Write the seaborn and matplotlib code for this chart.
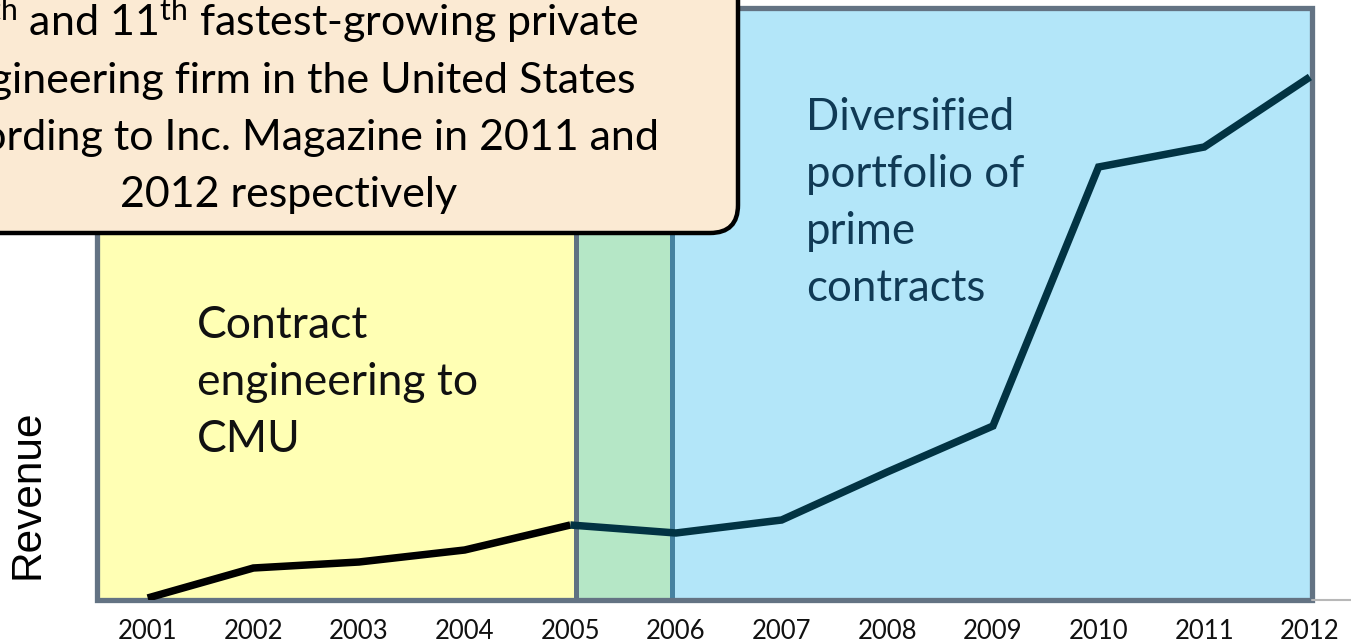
import matplotlib
matplotlib.use("Agg")
import matplotlib.pyplot as plt
from matplotlib.patches import Rectangle, FancyBboxPatch
import seaborn as sns
import pandas as pd

# ---------------- data ----------------
years = [2001, 2002, 2003, 2004, 2005, 2006, 2007, 2008, 2009, 2010, 2011, 2012]
revenue = [2, 32, 38, 50, 75, 67, 80, 128, 174, 433, 453, 523]
tick_labels = [str(y) for y in years]
# phase boundaries (years) : contract-engineering / transition / prime contracts
phase_edges = [2000.52, 2005.05, 2005.96, 2012.02]
phase_names = ["early", "late"]

callout_lines = [r"12$^{\rm th}$ and 11$^{\rm th}$ fastest-growing private",
                 "engineering firm in the United States",
                 "according to Inc. Magazine in 2011 and",
                 "2012 respectively"]
contract_lines = ["Contract", "engineering to", "CMU"]
diversified_lines = ["Diversified", "portfolio of", "prime", "contracts"]

# ---------------- styling ----------------
sns.set_theme(style="white")
plt.rcParams["font.family"] = ["Lato", "DejaVu Sans"]
plt.rcParams["mathtext.fontset"] = "custom"
plt.rcParams["mathtext.rm"] = "Lato"
plt.rcParams["mathtext.it"] = "Lato:italic"
plt.rcParams["mathtext.bf"] = "Lato:bold"

W, H = 1351, 644
fig = plt.figure(figsize=(W / 100, H / 100), dpi=100)
fig.patch.set_facecolor("white")

# main axes covering the coloured panel
ax = fig.add_axes([97 / W, (H - 600) / H, (1312 - 97) / W, 592 / H])
ax.set_xlim(phase_edges[0], phase_edges[-1])
ax.set_ylim(0, 592)
for s in ax.spines.values():
    s.set_visible(False)
ax.set_facecolor("none")

fills = ["#ffffb4", "#b5e7c6", "#b3e6f9"]
for (x0, x1), c in zip(zip(phase_edges[:-1], phase_edges[1:]), fills):
    ax.axvspan(x0, x1, 0, 1, facecolor=c, edgecolor="none", zorder=0.5)
# dividers
ax.axvline(phase_edges[1], color="#5f7282", lw=3.6, zorder=1.5)
ax.axvline(phase_edges[2], color="#4682a0", lw=3.6, zorder=1.5)
# outer border
ax.add_patch(Rectangle((0, 0), 1, 1, transform=ax.transAxes, fill=False,
                       edgecolor="#637383", lw=3.8, zorder=1.6, clip_on=False))

# revenue line
df_rows = []
for y, r in zip(years, revenue):
    if y <= 2005:
        df_rows.append({"year": y, "revenue": r, "phase": phase_names[0]})
    if y >= 2005:
        df_rows.append({"year": y, "revenue": r, "phase": phase_names[1]})
df = pd.DataFrame(df_rows)
sns.lineplot(data=df, x="year", y="revenue", hue="phase",
             palette={phase_names[0]: "#000000", phase_names[1]: "#023343"},
             linewidth=5.4, legend=False, ax=ax, zorder=3)
for ln in ax.lines[-2:]:
    ln.set_solid_capstyle("butt")
    ln.set_solid_joinstyle("miter")

ax.set_xticks(years)
ax.set_xticklabels(tick_labels, fontsize=18.5, color="#111111")
ax.set_yticks([])
ax.tick_params(axis="x", length=0, pad=14)
ax.set_xlabel("")
ax.set_ylabel("")

# overlay axes in pixel coordinates for annotations
ov = fig.add_axes([0, 0, 1, 1])
ov.set_xlim(0, W)
ov.set_ylim(H, 0)
ov.axis("off")
ov.set_facecolor("none")

# thin grey baseline continuing to the right
ov.plot([1312, W], [600, 600], color="#b8b8b8", lw=1.5, zorder=1)

# callout box
ov.add_patch(FancyBboxPatch((-200, -60), 938, 293,
                            boxstyle="round,pad=0,rounding_size=28",
                            facecolor="#fbead3", edgecolor="#000000", lw=3.2,
                            zorder=5))
for txt, yb in zip(callout_lines, [36, 93, 150, 207]):
    ov.text(289, yb, txt, ha="center", va="baseline", fontsize=31,
            color="#000000", zorder=6)

for txt, yb in zip(contract_lines, [338, 395, 452]):
    ov.text(197, yb, txt, ha="left", va="baseline", fontsize=32,
            color="#111111", zorder=6)

for txt, yb in zip(diversified_lines, [130, 187, 244, 301]):
    ov.text(806, yb, txt, ha="left", va="baseline", fontsize=31.5,
            color="#103a55", zorder=6)

ov.text(27, 494, "Revenue", rotation=90, ha="center", va="center",
        fontsize=30.5, color="#000000", family=["Liberation Sans", "DejaVu Sans"])

fig.savefig("out.png", dpi=100)
